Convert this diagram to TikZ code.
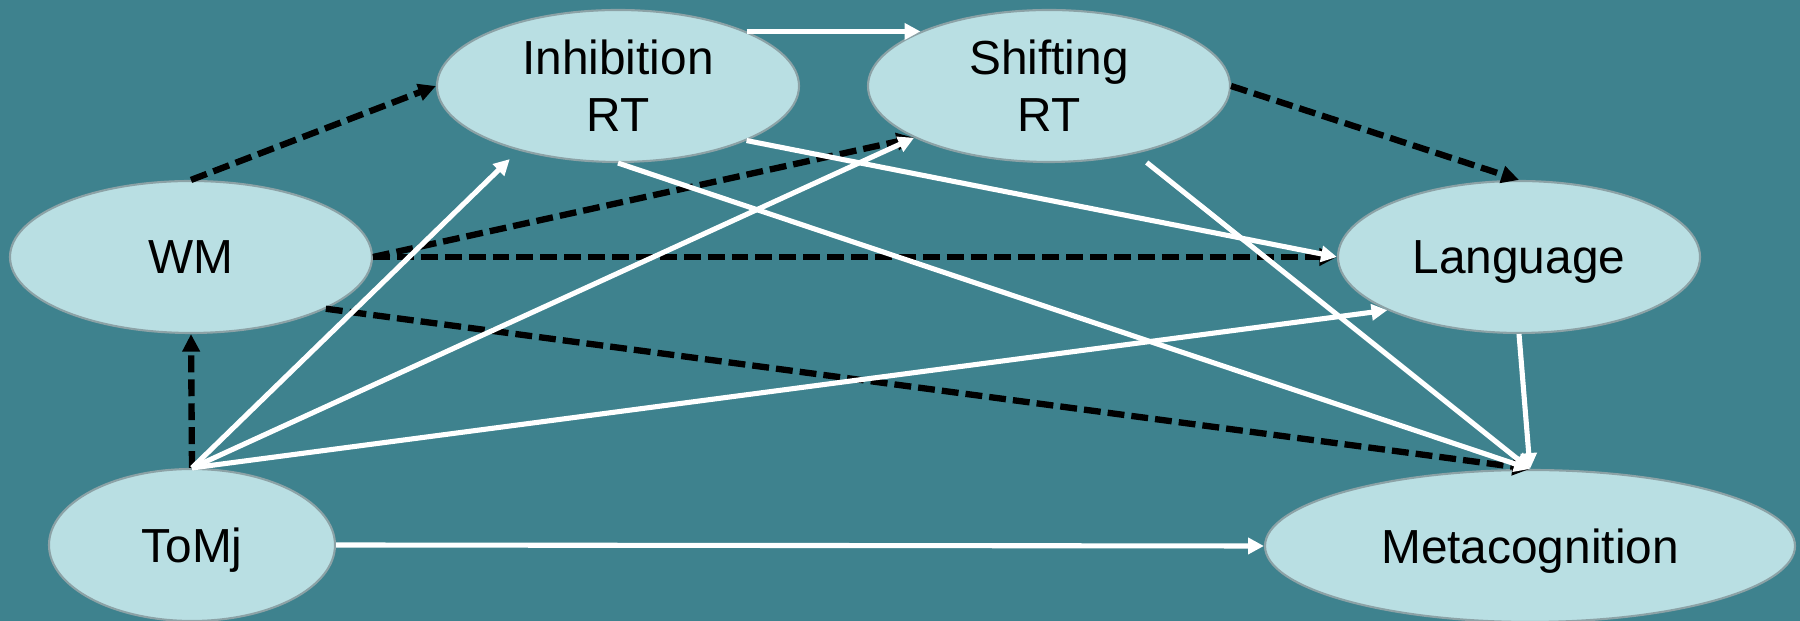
\documentclass[tikz,border=0pt]{standalone}
\usepackage{fontspec}
\setmainfont{Liberation Sans}
\usetikzlibrary{arrows.meta,shapes.geometric}
\definecolor{bgteal}{RGB}{62,130,142}
\definecolor{nodefill}{RGB}{185,223,227}
\definecolor{nodeedge}{RGB}{140,162,166}

\begin{document}
\begin{tikzpicture}
\fill[bgteal] (0,0) rectangle (36,12.42);
\useasboundingbox (0,0) rectangle (36,12.42);
\begin{scope}[every node/.style={ellipse,draw=nodeedge,line width=1.2pt,fill=nodefill,
              inner sep=0pt,minimum width=7.24cm,minimum height=3.04cm,text depth=0pt,
              align=center,font=\fontsize{27.2}{32.3}\selectfont}]
    \node (WM) at (3.82,7.28) {WM};
    \node (Inhib) at (12.36,10.70) {Inhibition\\RT};
    \node (Shift) at (20.98,10.70) {Shifting\\RT};
    \node (Lang) at (30.38,7.28) {Language};
    \node[minimum width=5.72cm] (ToMj) at (3.84,1.52) {ToMj};
    \node[minimum width=10.6cm] (Meta) at (30.60,1.50) {Metacognition};
\end{scope}
\begin{scope}[>={Triangle[length=10pt,width=9.6pt]},
              every edge/.style={draw=black,line width=3.6pt,dash pattern=on 9.6pt off 4pt}]
    \path [->] (WM.north) edge (Inhib.west);
    \path [->] (Shift.east) edge (Lang.north);
    \path [->] (WM.east) edge (Shift.201);
    \path [->] (WM.east) edge (Lang.west);
    \path [->] (WM.-21) edge (Meta.north);
    \path [->] (ToMj.north) edge (WM.south);
\end{scope}
\begin{scope}[>={Triangle[length=9pt,width=9pt]},
              every edge/.style={draw=white,line width=2.9pt}]
    \path [->] (Inhib.23) edge (Shift.157);
    \path [->] (Inhib.-23) edge (Lang.west);
    \path [->] (Inhib.south) edge (Meta.north);
    \path [->] (Shift.-38) edge [shorten <=8pt] (Meta.north);
    \path [->] (ToMj.north) edge [shorten >=7pt] (Inhib.213);
    \path [->] (ToMj.north) edge (Shift.201);
    \path [->] (ToMj.north) edge (Lang.202);
    \path [->] (ToMj.east) edge (Meta.west);
    \path [->] (Lang.south) edge (Meta.north);
\end{scope}
\end{tikzpicture}
\end{document}
